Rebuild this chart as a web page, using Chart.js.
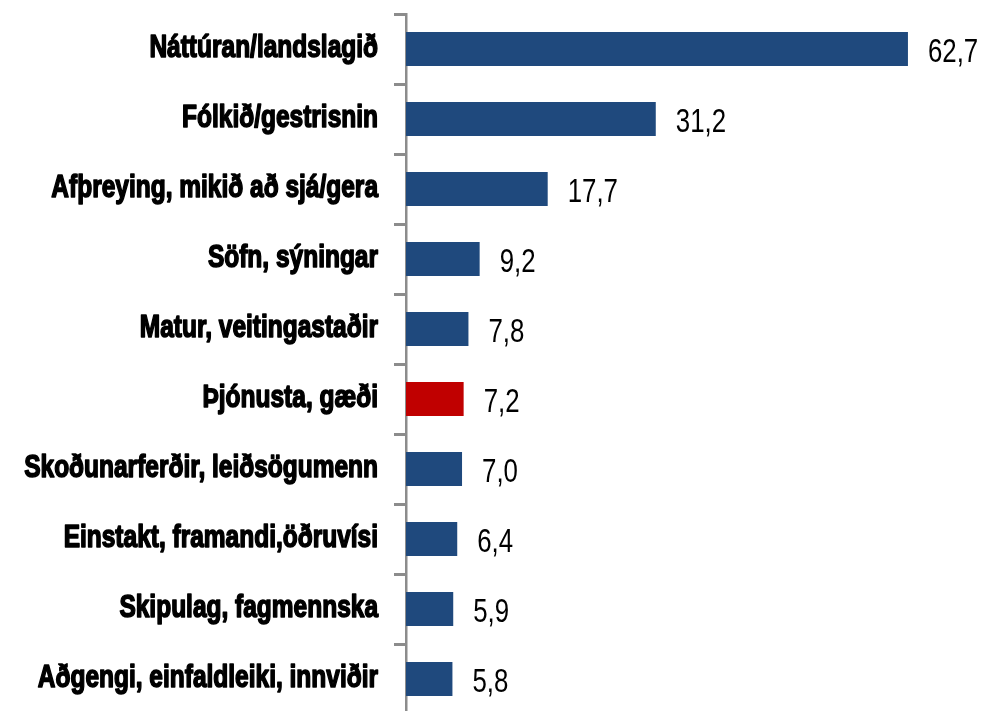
<!DOCTYPE html>
<html>
<head>
<meta charset="utf-8">
<script src="https://cdn.jsdelivr.net/npm/chart.js@4"></script>
<style>
html,body{margin:0;padding:0;background:#fff;overflow:hidden;}
#wrap{position:relative;width:984px;height:714px;}
</style>
</head>
<body>
<div id="wrap"><canvas id="c" width="984" height="714"></canvas></div>
<script>
const categories = [
  "Náttúran/landslagið",
  "Fólkið/gestrisnin",
  "Afþreying, mikið að sjá/gera",
  "Söfn, sýningar",
  "Matur, veitingastaðir",
  "Þjónusta, gæði",
  "Skoðunarferðir, leiðsögumenn",
  "Einstakt, framandi,öðruvísi",
  "Skipulag, fagmennska",
  "Aðgengi, einfaldleiki, innviðir"
];
const values = [62.7, 31.2, 17.7, 9.2, 7.8, 7.2, 7.0, 6.4, 5.9, 5.8];
const highlightIndex = 5;

const BLUE = '#1F497D';
const RED = '#C00000';
const AXIS = '#8C8C8C';

// Draws condensed category labels and value labels at the library's scale positions
const textPlugin = {
  id: 'textPlugin',
  afterDraw(chart) {
    const ctx = chart.ctx;
    const yScale = chart.scales.y;
    ctx.save();
    ctx.fillStyle = '#000';
    ctx.strokeStyle = '#000';
    ctx.lineJoin = 'round';
    ctx.textBaseline = 'alphabetic';
    // category labels (right aligned, horizontally condensed, extra heavy)
    ctx.font = 'bold 31px "Liberation Sans", Arial, sans-serif';
    const sx = 0.79;
    const rightX = yScale.right - 12 - 16;
    categories.forEach((lab, i) => {
      const y = yScale.getPixelForTick(i);
      ctx.save();
      ctx.translate(rightX, y + 8);
      ctx.scale(sx, 1);
      ctx.textAlign = 'right';
      ctx.lineWidth = 1.6;
      ctx.strokeText(lab, 0, 0);
      ctx.fillText(lab, 0, 0);
      ctx.restore();
    });
    // value labels
    ctx.font = '34px "Liberation Sans", Arial, sans-serif';
    const meta = chart.getDatasetMeta(0);
    meta.data.forEach((bar, i) => {
      const txt = values[i].toFixed(1).replace('.', ',');
      ctx.save();
      ctx.translate(bar.x + 20, bar.y + 13);
      ctx.scale(0.76, 1);
      ctx.textAlign = 'left';
      ctx.fillText(txt, 0, 0);
      ctx.restore();
    });
    ctx.restore();
  }
};

new Chart(document.getElementById('c'), {
  type: 'bar',
  data: {
    labels: categories,
    datasets: [{
      data: values,
      backgroundColor: values.map((v, i) => i === highlightIndex ? RED : BLUE),
      borderWidth: 0,
      barPercentage: 0.486,
      categoryPercentage: 1.0
    }]
  },
  options: {
    indexAxis: 'y',
    responsive: false,
    animation: false,
    events: [],
    layout: { padding: { top: 14, bottom: 0, left: 0, right: 0 } },
    plugins: {
      legend: { display: false },
      tooltip: { enabled: false }
    },
    scales: {
      x: {
        display: false,
        min: 0,
        max: 72.2
      },
      y: {
        afterFit(scale) {
          scale.width = 406;
          scale.paddingTop = 0;
          scale.paddingBottom = 0;
        },
        grid: {
          offset: true,
          drawOnChartArea: false,
          drawTicks: true,
          tickLength: 12,
          tickWidth: 3,
          tickColor: AXIS
        },
        border: { display: true, color: AXIS, width: 2.5 },
        ticks: { display: false }
      }
    }
  },
  plugins: [textPlugin]
});
</script>
</body>
</html>
